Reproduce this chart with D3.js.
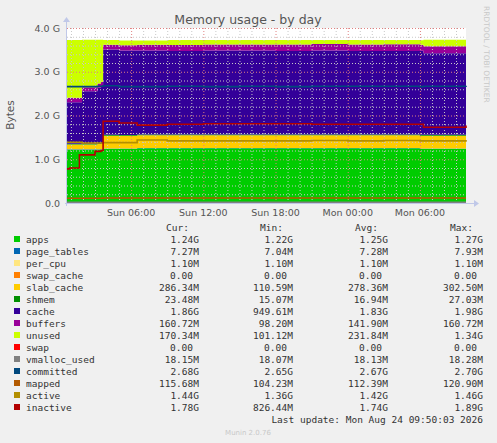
<!DOCTYPE html>
<html><head><meta charset="utf-8">
<script src="https://cdn.jsdelivr.net/npm/d3@7"></script>
<style>body{margin:0;background:#f0f0f0}svg{display:block}</style>
</head><body><svg id="c" width="497" height="443"></svg>
<script>
// hours since Sun 00:00
const times = [0.67,1.92,3.2,3.5,3.67,5,6.5,9,12,15,18,21,24,27,30,30.3,33.83];
const apps      = [1.22,1.22,1.22,1.22,1.24,1.24,1.25,1.25,1.25,1.25,1.25,1.25,1.25,1.25,1.24,1.24,1.24];
const pageTables= [0.007,0.007,0.007,0.007,0.007,0.007,0.007,0.007,0.007,0.007,0.007,0.007,0.007,0.007,0.007,0.007,0.007];
const perCpu    = [0.001,0.001,0.001,0.001,0.001,0.001,0.001,0.001,0.001,0.001,0.001,0.001,0.001,0.001,0.001,0.001,0.001];
const swapCache = [0,0,0,0,0,0,0,0,0,0,0,0,0,0,0,0,0];
const slabCache = [0.11,0.11,0.12,0.13,0.29,0.29,0.29,0.29,0.29,0.29,0.29,0.29,0.29,0.29,0.29,0.29,0.29];
const shmem     = [0.016,0.016,0.016,0.016,0.02,0.018,0.017,0.016,0.017,0.016,0.017,0.016,0.017,0.018,0.02,0.023,0.023];
const cache     = [0.95,1.2,1.27,1.3,1.95,1.93,1.92,1.91,1.92,1.92,1.91,1.92,1.91,1.91,1.92,1.86,1.86];
const buffers   = [0.10,0.09,0.10,0.10,0.11,0.12,0.13,0.14,0.14,0.14,0.15,0.15,0.15,0.15,0.14,0.16,0.16];
const unused    = [1.32,1.09,1.0,0.96,0.11,0.11,0.1,0.11,0.1,0.1,0.1,0.09,0.1,0.1,0.1,0.15,0.17];
const swap      = [0,0,0,0,0,0,0,0,0,0,0,0,0,0,0,0,0];
const vmalloc   = [0.018,0.018,0.018,0.018,0.018,0.018,0.018,0.018,0.018,0.018,0.018,0.018,0.018,0.018,0.018,0.018,0.018];
const committed = [2.66,2.66,2.67,2.67,2.68,2.66,2.66,2.67,2.66,2.67,2.66,2.67,2.67,2.67,2.66,2.67,2.68];
const mapped    = [0.11,0.11,0.11,0.11,0.115,0.115,0.115,0.115,0.115,0.115,0.115,0.115,0.115,0.115,0.115,0.115,0.115];
const active    = [1.39,1.37,1.37,1.37,1.38,1.38,1.44,1.42,1.42,1.42,1.42,1.43,1.42,1.43,1.42,1.42,1.44];
const inactive  = [0.78,1.1,1.18,1.2,1.87,1.83,1.78,1.80,1.81,1.81,1.81,1.80,1.80,1.80,1.80,1.73,1.77];
const inactiveEarly = [[0.67,0.78],[0.9,0.8],[1.7,1.1],[2.7,1.1],[3.0,1.18],[3.5,1.2]];

const yTicks = ["0.0","1.0 G","2.0 G","3.0 G","4.0 G"];
const xTickLabels = ["Sun 06:00","Sun 12:00","Sun 18:00","Mon 00:00","Mon 06:00"];
const xTickHours = [6,12,18,24,30];

const legendNames = ["apps","page_tables","per_cpu","swap_cache","slab_cache","shmem","cache","buffers","unused","swap","vmalloc_used","committed","mapped","active","inactive"];
const legendColors = ["#00cc00","#0066b3","#ffe680","#ff8000","#ffcc00","#008f00","#330099","#990099","#ccff00","#ff0000","#808080","#00487d","#b35a00","#b38f00","#b30000"];
const curVals = ["1.24G","7.27M","1.10M","0.00","286.34M","23.48M","1.86G","160.72M","170.34M","0.00","18.15M","2.68G","115.68M","1.44G","1.78G"];
const minVals = ["1.22G","7.04M","1.10M","0.00","110.59M","15.07M","949.61M","98.20M","101.12M","0.00","18.07M","2.65G","104.23M","1.36G","826.44M"];
const avgVals = ["1.25G","7.28M","1.10M","0.00","278.36M","16.94M","1.83G","141.90M","231.84M","0.00","18.13M","2.67G","112.39M","1.42G","1.74G"];
const maxVals = ["1.27G","7.93M","1.10M","0.00","302.50M","27.03M","1.98G","160.72M","1.34G","0.00","18.28M","2.70G","120.90M","1.46G","1.89G"];

const svg = d3.select("#c");
const L=67,R=466,T=28,B=203;
const x = d3.scaleLinear().domain([0.67,33.83]).range([L,R]);
const y = d3.scaleLinear().domain([0,4]).range([B,T]);

svg.append("rect").attr("x",L).attr("y",T).attr("width",R-L).attr("height",B-T).attr("fill","#fff");

const stackSeries=[apps,pageTables,perCpu,swapCache,slabCache,shmem,cache,buffers,unused,swap];
const rows = times.map((t,i)=>{const o={t};stackSeries.forEach((s,k)=>o["s"+k]=s[i]);return o;});
rows.push(Object.assign({},rows[rows.length-1],{t:33.9}));
const stack = d3.stack().keys(stackSeries.map((_,k)=>"s"+k))(rows);
const area = d3.area().curve(d3.curveStepAfter).x(d=>x(Math.min(d.data.t,33.83))).y0(d=>y(d[0])).y1(d=>y(d[1]));
stack.forEach((s,k)=>svg.append("path").attr("d",area(s)).attr("fill",legendColors[k]));

// grid
const g=svg.append("g");
d3.range(0,4.01,0.2).forEach(v=>{const major=Math.abs(v-Math.round(v))<1e-6;
  g.append("line").attr("x1",L).attr("x2",R).attr("y1",y(v)+0.5).attr("y2",y(v)+0.5)
   .attr("stroke",major?"#e08080":"#c8c8c8").attr("stroke-dasharray","1,2").attr("stroke-width",1);});
d3.range(1,34).forEach(h=>{if(h<0.67)return;const major=h%6===0;
  g.append("line").attr("y1",T).attr("y2",B).attr("x1",x(h)+0.5).attr("x2",x(h)+0.5)
   .attr("stroke",major?"#e08080":"#c8c8c8").attr("stroke-dasharray","1,2").attr("stroke-width",1);});

// lines
const lineRows=(arr)=>times.map((t,i)=>[t,arr[i]]).concat([[33.83,arr[arr.length-1]]]);
const line=d3.line().curve(d3.curveStepAfter).x(d=>x(d[0])).y(d=>y(d[1]));
const lines=[[vmalloc,10],[committed,11],[mapped,12],[active,13]];
lines.forEach(([a,k])=>svg.append("path").attr("d",line(lineRows(a))).attr("fill","none").attr("stroke",legendColors[k]).attr("stroke-width",1.6));
const inRows = inactiveEarly.concat(lineRows(inactive).slice(4));
svg.append("path").attr("d",line(inRows)).attr("fill","none").attr("stroke",legendColors[14]).attr("stroke-width",1.6);

// axes
const ax=svg.append("g").attr("stroke","#c0c8e8");
ax.append("line").attr("x1",L-2).attr("x2",R+8).attr("y1",B+0.5).attr("y2",B+0.5);
ax.append("line").attr("x1",L-0.5).attr("x2",L-0.5).attr("y1",B+3).attr("y2",T-8);
svg.append("path").attr("d",`M${R+8},${B-3}L${R+13},${B+0.5}L${R+8},${B+4}Z`).attr("fill","#c0c8e8");
svg.append("path").attr("d",`M${L-4},${T-6}L${L-0.5},${T-11}L${L+3},${T-6}Z`).attr("fill","#c0c8e8");

const font="DejaVu Sans, sans-serif";
yTicks.forEach((t,i)=>svg.append("text").attr("x",60).attr("y",y(i)+3.5).attr("text-anchor","end")
  .attr("font-family",font).attr("font-size",9.5).attr("fill","#555").text(t));
xTickHours.forEach((h,i)=>svg.append("text").attr("x",x(h)).attr("y",216).attr("text-anchor","middle")
  .attr("font-family",font).attr("font-size",9.5).attr("fill","#555").text(xTickLabels[i]));
svg.append("text").attr("x",248).attr("y",24).attr("text-anchor","middle").attr("font-family",font)
  .attr("font-size",12.5).attr("fill","#555").text("Memory usage - by day");
svg.append("text").attr("transform","translate(14,115) rotate(-90)").attr("text-anchor","middle")
  .attr("font-family",font).attr("font-size",10.5).attr("fill","#555").text("Bytes");
svg.append("text").attr("transform","translate(484,6) rotate(90)").attr("font-family",font)
  .attr("font-size",7.5).attr("fill","#c8c8c8").text("RRDTOOL / TOBI OETIKER");

// legend
const mono="DejaVu Sans Mono, monospace";
const cols=[199,293,388,483], heads=["Cur:","Min:","Avg:","Max:"];
heads.forEach((h,i)=>svg.append("text").attr("x",cols[i]-10).attr("y",231).attr("text-anchor","end")
  .attr("font-family",mono).attr("font-size",9.5).attr("fill","#333").text(h));
const vals=[curVals,minVals,avgVals,maxVals];
legendNames.forEach((n,i)=>{const yy=243+12*i;
  svg.append("rect").attr("x",14).attr("y",yy-7).attr("width",6).attr("height",6).attr("fill",legendColors[i]);
  svg.append("text").attr("x",26).attr("y",yy).attr("font-family",mono).attr("font-size",9.5).attr("fill","#333").text(n);
  vals.forEach((v,c)=>svg.append("text").attr("x",v[i].endsWith("M")||v[i].endsWith("G")?cols[c]:cols[c]-6).attr("y",yy)
    .attr("text-anchor","end").attr("font-family",mono).attr("font-size",9.5).attr("fill","#333").text(v[i]));
});
svg.append("text").attr("x",483).attr("y",423).attr("text-anchor","end").attr("font-family",mono)
  .attr("font-size",9.5).attr("fill","#333").text("Last update: Mon Aug 24 09:50:03 2026");
svg.append("text").attr("x",248).attr("y",435).attr("text-anchor","middle").attr("font-family",font)
  .attr("font-size",7).attr("fill","#c8c8c8").text("Munin 2.0.76");
</script></body></html>
